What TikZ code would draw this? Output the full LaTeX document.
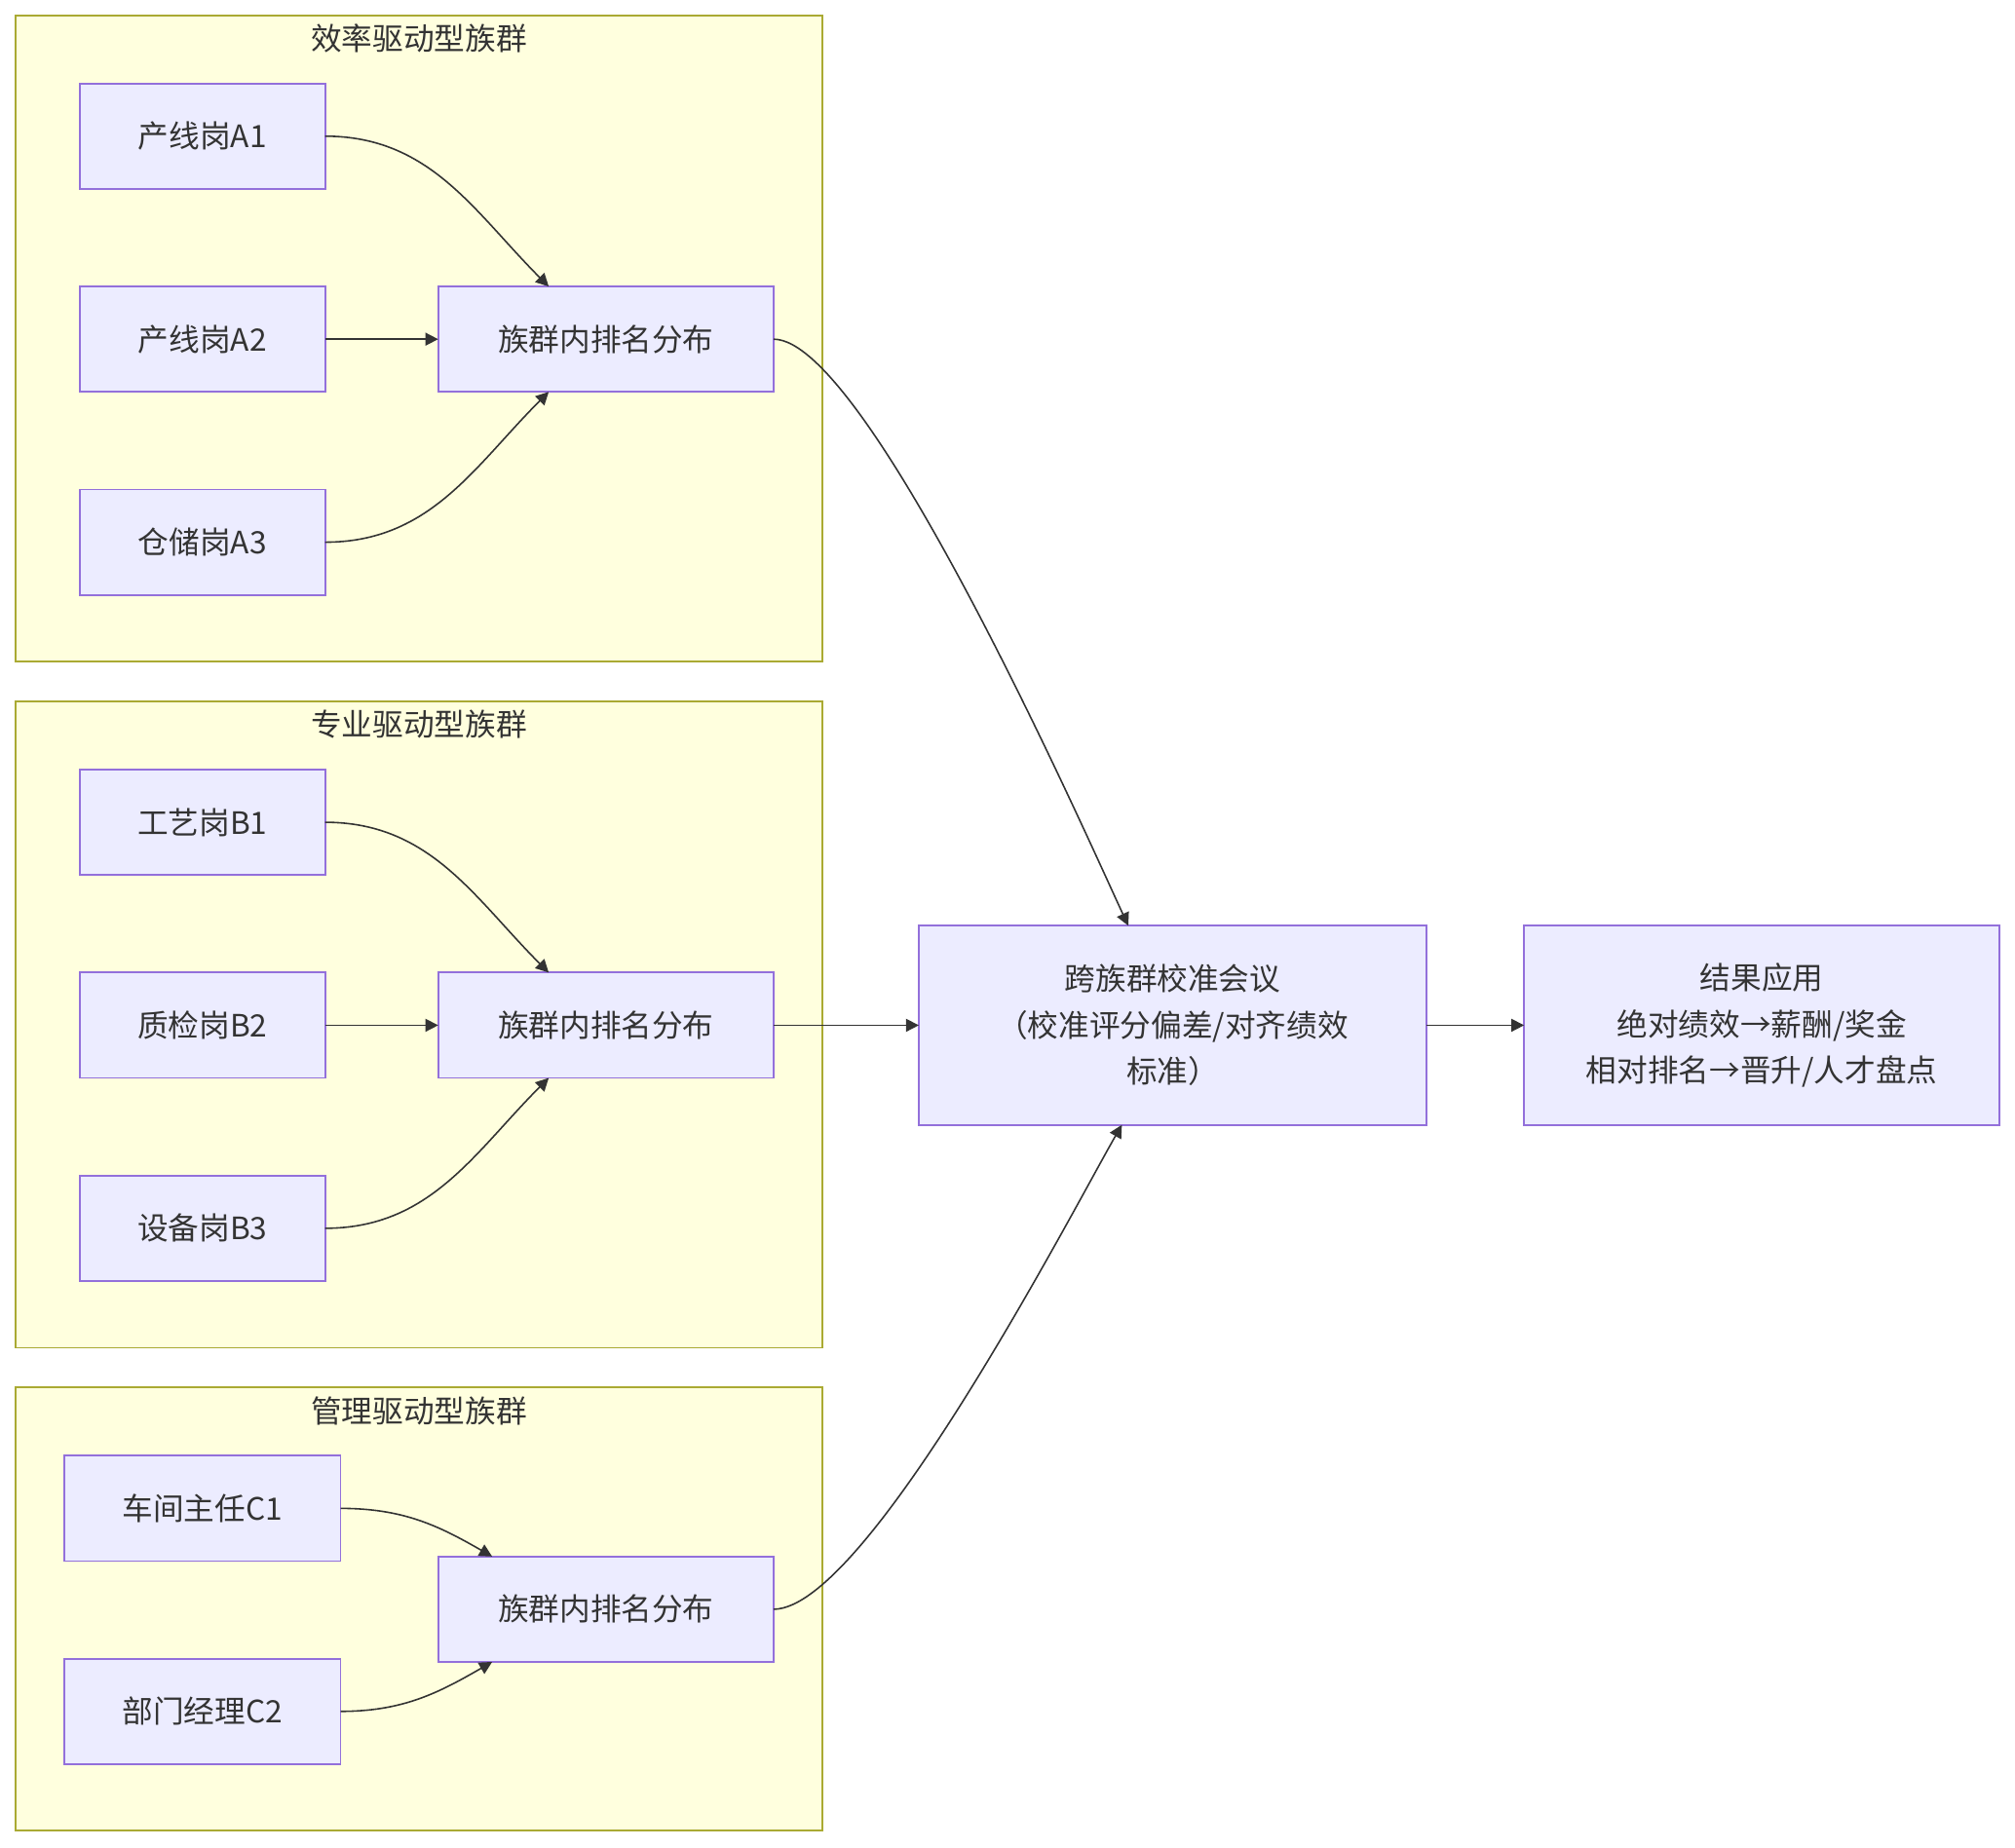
\documentclass[tikz,border=0pt]{standalone}
\usepackage{fontspec}
\setmainfont{Noto Sans CJK SC}
\usepackage{tikz}
\usetikzlibrary{positioning,arrows.meta}
\definecolor{clusterFill}{HTML}{FFFFDE}
\definecolor{clusterLine}{HTML}{AAAA33}
\definecolor{boxFill}{HTML}{ECECFF}
\definecolor{boxLine}{HTML}{9370DB}
\definecolor{ink}{HTML}{333333}
\tikzset{
  cluster/.style={draw=clusterLine, fill=clusterFill, line width=0.7pt},
  clustertitle/.style={font=\fontsize{12}{14}\selectfont, text=ink, inner sep=0pt},
  post/.style={rectangle, draw=boxLine, fill=boxFill, line width=0.7pt, outer sep=0pt,
               minimum width=95.5pt, minimum height=41pt, align=center,
               font=\fontsize{12}{18}\selectfont, text=ink},
  widepost/.style={post, minimum width=107.5pt},
  rank/.style={post, minimum width=130.5pt},
  bigbox/.style={post, minimum width=197.5pt, minimum height=77.5pt},
  flow/.style={-{Triangle[length=5pt,width=5pt]}, line width=0.6pt, draw=ink}
}
\begin{document}
\begin{tikzpicture}[x=0.5pt, y=0.5pt, node distance=38pt]
\useasboundingbox (0,0) rectangle (1568,-1438);
% groups
\draw[cluster] (12,-12) rectangle (640,-515);
\draw[cluster] (12,-546) rectangle (640,-1049);
\draw[cluster] (12,-1080) rectangle (640,-1425);
\node[clustertitle] (titleA) at (326,-30) {效率驱动型族群};
\node[clustertitle] (titleB) at (326,-564) {专业驱动型族群};
\node[clustertitle] (titleC) at (326,-1098) {管理驱动型族群};

% efficiency group
\node[post] (a1) at (157.5,-106) {产线岗A1};
\node[post, below=of a1] (a2) {产线岗A2};
\node[post, below=of a2] (a3) {仓储岗A3};
\node[rank, right=44pt of a2] (rankA) {族群内排名分布};

% professional group
\node[post] (b1) at (157.5,-640) {工艺岗B1};
\node[post, below=of b1] (b2) {质检岗B2};
\node[post, below=of b2] (b3) {设备岗B3};
\node[rank, right=44pt of b2] (rankB) {族群内排名分布};

% management group
\node[widepost] (c1) at (157.5,-1174) {车间主任C1};
\node[widepost, below=of c1] (c2) {部门经理C2};
\node[rank] (rankC) at (471.5,-1252.5) {族群内排名分布};

% calibration and use
\node[bigbox, right=56.5pt of rankB] (calib) {跨族群校准会议\\（校准评分偏差/对齐绩效\\标准）};
\node[bigbox, minimum width=185pt, right=38pt of calib] (result) {结果应用\\绝对绩效→薪酬/奖金\\相对排名→晋升/人才盘点};

\draw[flow] (a1.east) to[out=0, in=135] ([xshift=43pt]rankA.north west);
\draw[flow] (a2) -- (rankA);
\draw[flow] (a3.east) to[out=0, in=-135] ([xshift=43pt]rankA.south west);
\draw[flow] (b1.east) to[out=0, in=135] ([xshift=43pt]rankB.north west);
\draw[flow] (b2) -- (rankB);
\draw[flow] (b3.east) to[out=0, in=-135] ([xshift=43pt]rankB.south west);
\draw[flow] (c1.east) to[out=0, in=150] ([xshift=21pt]rankC.north west);
\draw[flow] (c2.east) to[out=0, in=-150] ([xshift=21pt]rankC.south west);
\draw[flow] (rankA.east) to[out=0, in=115, looseness=0.35] ([xshift=81.5pt]calib.north west);
\draw[flow] (rankB) -- (calib);
\draw[flow] (rankC.east) to[out=0, in=-120, looseness=0.4] ([xshift=79pt]calib.south west);
\draw[flow] (calib) -- (result);
\end{tikzpicture}
\end{document}
